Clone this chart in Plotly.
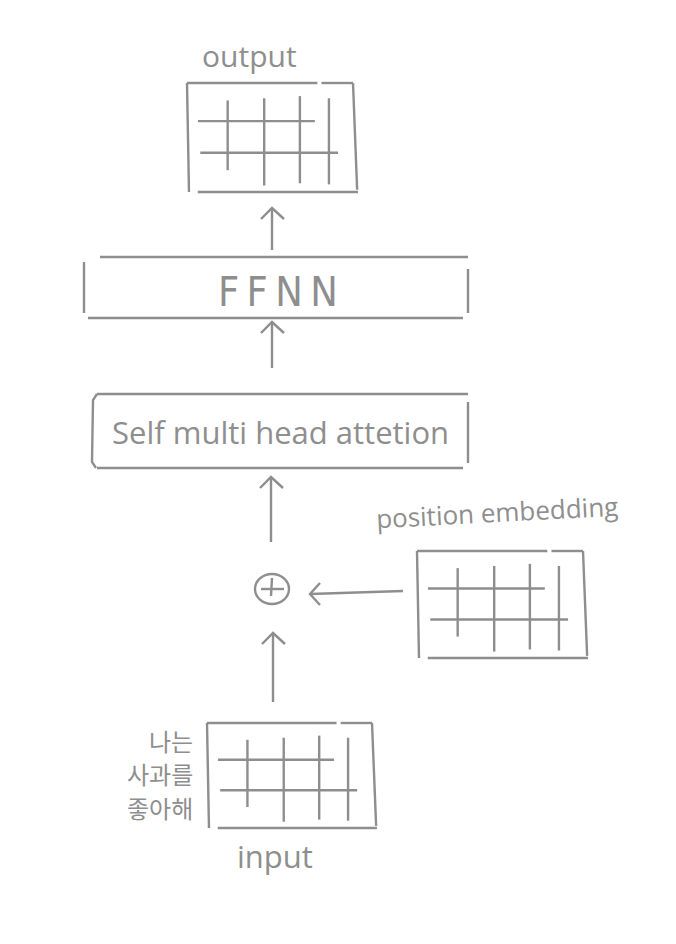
import plotly.graph_objects as go

# Textos do diagrama
rotulo_saida = 'output'
rotulo_entrada = 'input'
rotulo_posicao = 'position embedding'
camadas = ['FFNN', 'Self multi head attetion']
frase = ['나는', '사과를', '좋아해']
n_colunas = 5  # colunas de cada matriz (linhas = len(frase))

# Geometria (pixels da página, y para baixo)
COR = '#8e8e8e'
LARG = 2.4
matrizes = {'saida': (187, 83, 166, 109),
            'posicao': (417, 551, 166, 107),
            'entrada': (207, 723, 165, 105)}
caixas = {'FFNN': (84, 468, 257, 318),
          'Self multi head attetion': (93, 468, 394, 468)}
setas = [((272, 250), (272, 208)), ((272, 368), (272, 322)),
         ((271, 542), (271, 477)), ((273, 702), (273, 633)),
         ((403, 591), (310, 594))]
soma = (272, 589, 17, 15)

# Contorno da matriz desenhado à mão (frações da caixa)
contorno = [[(0, 0), (0.785, 0)], [(0.81, 0), (1, 0)], [(0, 0), (0.012, 1.0)],
            [(1, 0), (1.025, 0.98)], [(0.065, 1), (1.03, 1)]]
extensao_h = [(0.066, 0.77), (0.08, 0.91)]
extensao_v = [(0.16, 0.80), (0.14, 0.94), (0.12, 0.92), (0.14, 0.93)]
pos_h = [0.35, 0.64]
pos_v = [0.245, 0.465, 0.68, 0.855]


def segmentos(lista):
    xs, ys = [], []
    for seg in lista:
        for x, y in seg:
            xs.append(x)
            ys.append(y)
        xs.append(None)
        ys.append(None)
    return xs, ys


def matriz(x0, y0, w, h):
    segs = [[(x0 + a * w, y0 + b * h) for a, b in s] for s in contorno]
    linhas = len(frase) - 1
    for i in range(linhas):
        a, b = extensao_h[i]
        segs.append([(x0 + a * w, y0 + pos_h[i] * h), (x0 + b * w, y0 + pos_h[i] * h)])
    for j in range(n_colunas - 1):
        a, b = extensao_v[j]
        segs.append([(x0 + pos_v[j] * w, y0 + a * h), (x0 + pos_v[j] * w, y0 + b * h)])
    return segs


def caixa(esq, dir, topo, base, colchete):
    segs = [[(esq + 16, topo), (dir, topo)], [(esq + 4, base), (dir - 5, base)],
            [(dir, topo + 12), (dir, base - 5)]]
    if colchete:
        segs[0] = [(esq + 4, topo), (dir, topo)]
        segs.append([(esq + 4, topo), (esq, topo + 6), (esq - 1, base - 6), (esq + 3, base)])
        segs[2] = [(dir, topo + 8), (dir, base - 5)]
    else:
        segs.append([(esq, topo + 5), (esq, base - 5)])
    return segs


def seta(cauda, ponta):
    (xc, yc), (xp, yp) = cauda, ponta
    if xc == xp or abs(xc - xp) < abs(yc - yp):
        asas = [[(xp - 11, yp + 11), (xp, yp), (xp + 12, yp + 11)]]
    else:
        asas = [[(xp + 10, yp - 11), (xp, yp), (xp + 10, yp + 11)]]
    return [[cauda, ponta]] + asas


segs = []
for m in matrizes.values():
    segs += matriz(*m)
for i, nome in enumerate(camadas):
    segs += caixa(*caixas[nome], colchete=(i == 1))
for c, p in setas:
    segs += seta(c, p)
cx, cy, rx, ry = soma
segs += [[(cx - 11, cy), (cx + 12, cy)], [(cx, cy - 11), (cx - 1, cy + 7)]]

xs, ys = segmentos(segs)

fig = go.Figure()
fig.add_scatter(x=xs, y=ys, mode='lines', line=dict(color=COR, width=LARG),
                hoverinfo='skip', showlegend=False)
fig.add_shape(type='circle', x0=cx - rx, x1=cx + rx, y0=cy - ry, y1=cy + ry,
              line=dict(color=COR, width=LARG))

fonte = 'Open Sans'
textos = [
    dict(x=249, y=55, text=rotulo_saida, size=30),
    dict(x=278, y=292, text='\u2009'.join(camadas[0]), size=41,
         fam='Liberation Sans Narrow, DejaVu Sans Condensed, DejaVu Sans'),
    dict(x=280, y=432, text=camadas[1], size=31),
    dict(x=497, y=512, text=rotulo_posicao, size=26, ang=-3),
    dict(x=275, y=856, text=rotulo_entrada, size=31),
]
for t in textos:
    fig.add_annotation(x=t['x'], y=t['y'], text=t['text'], showarrow=False,
                       textangle=t.get('ang', 0), xanchor='center', yanchor='middle',
                       font=dict(family=t.get('fam', fonte), size=t['size'], color=COR))
for k, palavra in enumerate(frase):
    fig.add_annotation(x=195, y=[740, 773, 807][k], text=palavra, showarrow=False,
                       xanchor='right', yanchor='middle',
                       font=dict(family='Noto Sans CJK KR', size=24, color=COR))

fig.update_xaxes(range=[0, 676], visible=False, fixedrange=True)
fig.update_yaxes(range=[944, 0], visible=False, fixedrange=True)
fig.update_layout(width=676, height=944, margin=dict(l=0, r=0, t=0, b=0),
                  plot_bgcolor='white', paper_bgcolor='white')
fig.write_html('out.html', config={'displayModeBar': False},
               post_script="document.body.style.margin='0';")
